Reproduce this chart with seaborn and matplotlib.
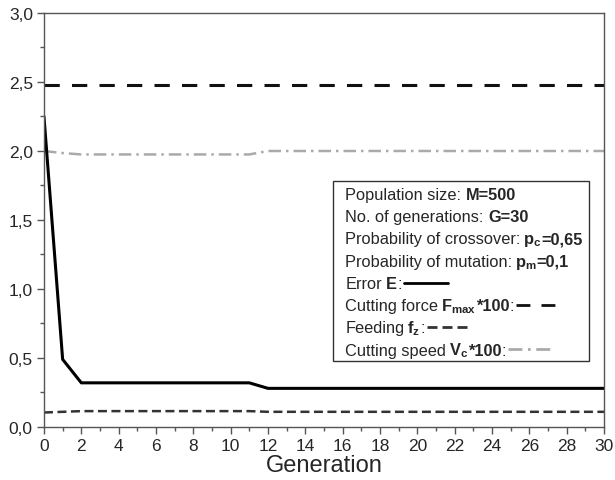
import numpy as np
import pandas as pd
import matplotlib
matplotlib.use("Agg")
import matplotlib.pyplot as plt
import seaborn as sns
from matplotlib.ticker import MultipleLocator, FuncFormatter
from matplotlib.offsetbox import TextArea, DrawingArea, HPacker, VPacker, AnchoredOffsetbox
from matplotlib.lines import Line2D

# Data
generation = list(range(31))
error_e = [2.25, 0.49, 0.32, 0.32, 0.32, 0.32, 0.32, 0.32, 0.32, 0.32, 0.32, 0.32] + [0.28] * 19
cutting_force = [2.48] * 31
feeding = [0.105, 0.11] + [0.115] * 10 + [0.11] * 19
cutting_speed = [2.0, 1.985] + [1.975] * 10 + [2.0] * 19

df = pd.DataFrame({
    "Generation": generation,
    "Error": error_e,
    "Force": cutting_force,
    "Feeding": feeding,
    "Speed": cutting_speed,
})

sns.set_style("ticks")
plt.rcParams["font.family"] = ["Liberation Sans", "DejaVu Sans"]
plt.rcParams["mathtext.fontset"] = "custom"
plt.rcParams["mathtext.rm"] = "Liberation Sans"
plt.rcParams["mathtext.it"] = "Liberation Sans"
plt.rcParams["mathtext.bf"] = "Liberation Sans:bold"

styles = {
    "Error": dict(color="black", lw=2.2, linestyle="-"),
    "Force": dict(color="#111111", lw=2.2, linestyle=(0, (5, 4))),
    "Feeding": dict(color="#333333", lw=1.8, linestyle=(0, (3.6, 1.8))),
    "Speed": dict(color="#aaaaaa", lw=1.8, linestyle=(0, (5, 2, 1, 2))),
}

fig = plt.figure(figsize=(6.15, 4.81), dpi=100)
ax = fig.add_axes([0.0715, 0.1102, 0.9106, 0.8607])

for col in ["Force", "Speed", "Feeding", "Error"]:
    sns.lineplot(data=df, x="Generation", y=col, ax=ax, **styles[col])

ax.set_xlim(0, 30)
ax.set_ylim(0, 3.0)
ax.xaxis.set_major_locator(MultipleLocator(2))
ax.xaxis.set_minor_locator(MultipleLocator(1))
ax.yaxis.set_major_locator(MultipleLocator(0.5))
ax.yaxis.set_minor_locator(MultipleLocator(0.25))
ax.yaxis.set_major_formatter(FuncFormatter(lambda v, p: f"{v:.1f}".replace(".", ",")))
ax.tick_params(which="major", direction="out", length=5, width=1, labelsize=12.5,
               color="#555555", top=False, right=False, pad=3)
ax.tick_params(which="minor", direction="out", length=3, width=1,
               color="#555555", top=False, right=False)
ax.set_xlabel("Generation", fontsize=17, labelpad=1)
ax.set_ylabel("")
for s in ax.spines.values():
    s.set_color("#555555")
    s.set_linewidth(1.0)

# Legend box with inline line samples
FS = 11.8
N, B = "normal", "bold"
SP = 3.2   # word gap before plain text
SM = 2.0   # word gap before mathtext
entries = [
    ([("Population size:", N), SP, ("M=500", B)], None),
    ([("No. of generations:", N), SP, ("G=30", B)], None),
    ([("Probability of crossover:", N), SM, (r"$\mathbf{p_c}$", N), ("=0,65", B)], None),
    ([("Probability of mutation:", N), SM, (r"$\mathbf{p_m}$", N), ("=0,1", B)], None),
    ([("Error", N), SP, ("E", B), (":", N)], "Error"),
    ([("Cutting force", N), SM, (r"$\mathbf{F_{max}}$", N), ("*100", B), (":", N)], "Force"),
    ([("Feeding", N), SM, (r"$\mathbf{f_z}$", N), (":", N)], "Feeding"),
    ([("Cutting speed", N), SM, (r"$\mathbf{V_c}$", N), ("*100", B), (":", N)], "Speed"),
]
rows = []
for pieces, key in entries:
    parts = [DrawingArea(0, 15.2, 0, 3.2)]  # fixed row height
    for p in pieces:
        if isinstance(p, float):
            parts.append(DrawingArea(p, 0, 0, 0))
        else:
            parts.append(TextArea(p[0], textprops=dict(fontsize=FS, fontweight=p[1])))
    if key is not None:
        da = DrawingArea(33, 8, 0, 0)
        st = dict(styles[key])
        st["lw"] = 2.0
        da.add_artist(Line2D([1.5, 33], [4, 4], **st))
        parts.append(da)
    rows.append(HPacker(children=parts, pad=0, sep=0, align="baseline"))
vp = VPacker(children=rows, pad=0, sep=0.6, align="left")
inner = HPacker(children=[DrawingArea(7.6, 0, 0, 0), vp, DrawingArea(3, 0, 0, 0)],
                pad=0, sep=0, align="center")
box = AnchoredOffsetbox(loc="upper left", child=inner, pad=0.12, borderpad=0,
                        bbox_to_anchor=(0.516, 0.594), bbox_transform=ax.transAxes,
                        frameon=True)
box.patch.set_edgecolor("#333333")
box.patch.set_linewidth(1.0)
box.patch.set_boxstyle("square", pad=0)
ax.add_artist(box)

fig.savefig("out.png", dpi=100)
